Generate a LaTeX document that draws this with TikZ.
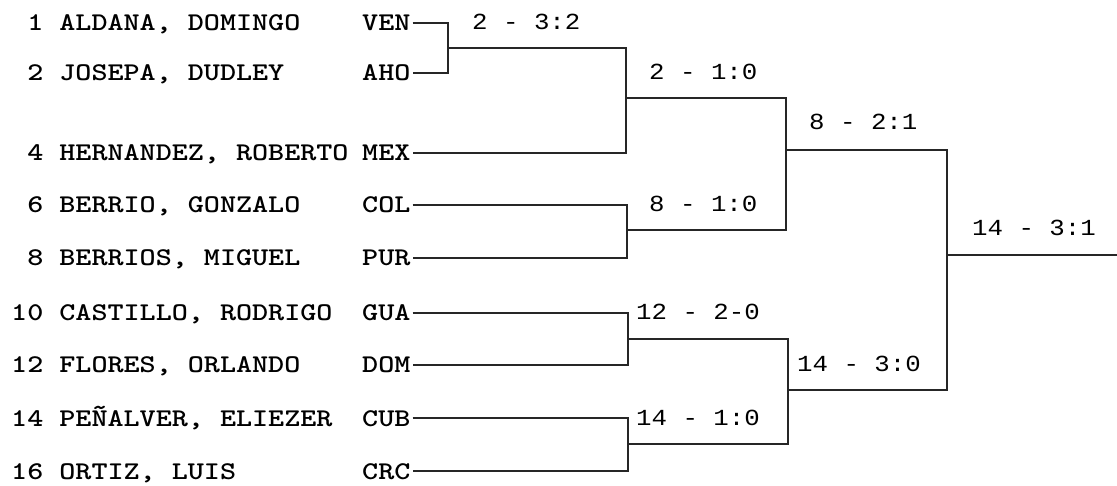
\documentclass[tikz,border=0pt]{standalone}
\usepackage{fontspec}
\newfontfamily\namefont{lmmonolt10-bold.otf}[FakeStretch=1.2]
\newfontfamily\labfont{Liberation Mono}[FakeStretch=1.12]
\begin{document}
\begin{tikzpicture}[x=1pt,y=-1pt,
  player/.style={anchor=west,inner sep=0pt,text height=16pt,text depth=0pt,font=\namefont\fontsize{25.5}{26}\selectfont},
  ctry/.style={anchor=west,inner ysep=0pt,inner xsep=2pt,text height=16pt,text depth=0pt,font=\namefont\fontsize{25.5}{26}\selectfont},
  score/.style={anchor=base west,inner sep=0pt,font=\labfont\fontsize{23}{24}\selectfont},
  wire/.style={line width=1.3pt,black!85}]
\useasboundingbox (0,0) rectangle (1117,486);
\fill[white] (0,0) rectangle (1117,486);
% players
\node[player] (p1)  at (11,23)  {\hphantom{1}1 ALDANA, DOMINGO};
\node[player] (p2)  at (11,73)  {\hphantom{1}2 JOSEPA, DUDLEY};
\node[player] (p4)  at (11,153) {\hphantom{1}4 HERNANDEZ, ROBERTO};
\node[player] (p6)  at (11,205) {\hphantom{1}6 BERRIO, GONZALO};
\node[player] (p8)  at (11,258) {\hphantom{1}8 BERRIOS, MIGUEL};
\node[player] (p10) at (11,313) {10 CASTILLO, RODRIGO};
\node[player] (p12) at (11,365) {12 FLORES, ORLANDO};
\node[player] (p14) at (11,418) {14 PEÑALVER, ELIEZER};
\node[player] (p16) at (11,471) {16 ORTIZ, LUIS};
% countries
\node[ctry] (cVEN) at (360,23)  {VEN};
\node[ctry] (cAHO) at (360,73)  {AHO};
\node[ctry] (cMEX) at (360,153) {MEX};
\node[ctry] (cCOL) at (360,205) {COL};
\node[ctry] (cPUR) at (360,258) {PUR};
\node[ctry] (cGUA) at (360,313) {GUA};
\node[ctry] (cDOM) at (360,365) {DOM};
\node[ctry] (cCUB) at (360,418) {CUB};
\node[ctry] (cCRC) at (360,471) {CRC};
% match points
\coordinate (m1) at (448,48);
\coordinate (m2) at (626,98);
\coordinate (m3) at (627,230);
\coordinate (m4) at (786,150);
\coordinate (m5) at (628,339);
\coordinate (m6) at (628,444);
\coordinate (m7) at (788,390);
\coordinate (m8) at (947,255);
\coordinate (fin) at (1117,255);
% connectors
\draw[wire] (cVEN.east) -| (m1) |- (cAHO.east);
\draw[wire] (m1) -| (m2) |- (cMEX.east);
\draw[wire] (cCOL.east) -| (m3) |- (cPUR.east);
\draw[wire] (m2) -| (m4) |- (m3);
\draw[wire] (cGUA.east) -| (m5) |- (cDOM.east);
\draw[wire] (cCUB.east) -| (m6) |- (cCRC.east);
\draw[wire] (m5) -| (m7) |- (m6);
\draw[wire] (m4) -| (m8) |- (m7);
\draw[wire] (m8) -- (fin);
% scores
\node[score] (s1) at (472,30)  {2 - 3:2};
\node[score] (s2) at (649,80)  {2 - 1:0};
\node[score] (s3) at (649,212) {8 - 1:0};
\node[score] (s4) at (809,130) {8 - 2:1};
\node[score] (s5) at (636,320) {12 - 2-0};
\node[score] (s6) at (636,425) {14 - 1:0};
\node[score] (s7) at (797,371) {14 - 3:0};
\node[score] (s8) at (972,236) {14 - 3:1};
\end{tikzpicture}
\end{document}
